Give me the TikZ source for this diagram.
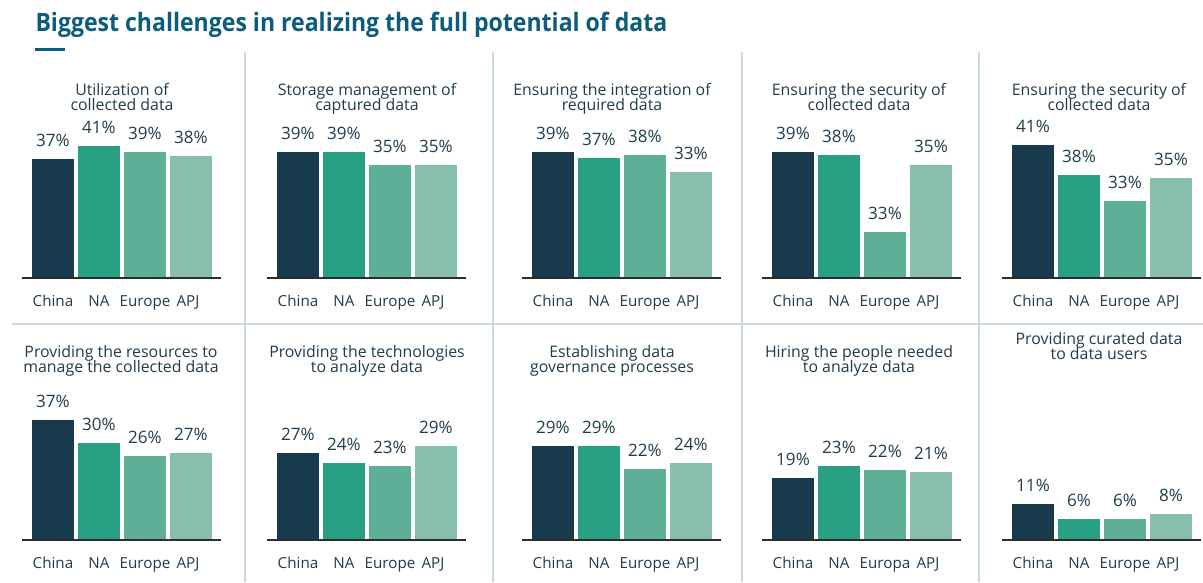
\documentclass[tikz,border=0pt]{standalone}
\usepackage{fontspec}
\setmainfont{Open Sans}
\newfontfamily\headfont[FakeStretch=0.91]{Open Sans}

\definecolor{chinacol}{RGB}{23,59,77}
\definecolor{nacol}{RGB}{41,160,132}
\definecolor{eurocol}{RGB}{94,175,151}
\definecolor{apjcol}{RGB}{136,191,171}
\definecolor{inkcol}{RGB}{30,60,77}
\definecolor{headcol}{RGB}{12,92,124}
\definecolor{sepcol}{RGB}{200,218,228}
\definecolor{axiscol}{RGB}{45,45,45}

\tikzset{every picture/.style={line width=0.75pt}}
\tikzset{
	headline/.style={font=\headfont\bfseries\fontsize{19}{19}\selectfont, text=headcol, anchor=base west, inner sep=0},
	paneltitle/.style={font=\fontsize{11.9}{11.9}\selectfont, text=inkcol, anchor=base, inner sep=0},
	pct/.style={font=\fontsize{12.8}{12.8}\selectfont, text=inkcol, anchor=base, inner sep=0},
	regionlabel/.style={font=\fontsize{11.4}{11.4}\selectfont, text=inkcol, anchor=base, inner sep=0},
	chinabar/.style={fill=chinacol, draw opacity=0},
	nabar/.style={fill=nacol, draw opacity=0},
	eurobar/.style={fill=eurocol, draw opacity=0},
	apjbar/.style={fill=apjcol, draw opacity=0},
	axisline/.style={draw=axiscol, line width=1.1pt},
	sepline/.style={draw=sepcol, line width=1.5pt}
}

\begin{document}
\begin{tikzpicture}[x=0.75pt,y=0.75pt,yscale=-1,xscale=1]
	\useasboundingbox (0,0) rectangle (1203,582);

	% Heading
	\node [headline] (head) at (35,31) {Biggest challenges in realizing the full potential of data};
	\fill [headcol] (35,47.5) rectangle (65,50.5);

	% Separators
	\draw [sepline] (245,52) -- (245,582);
	\draw [sepline] (493,52) -- (493,582);
	\draw [sepline] (742,52) -- (742,582);
	\draw [sepline] (979,52) -- (979,582);
	\draw [sepline] (12,324) -- (1203,324);

	%%%%%%%%%% Row 1 %%%%%%%%%%

	% Panel A
	\node [paneltitle] (tA1) at (122,95) {Utilization of};
	\node [paneltitle] (tA2) at (122,110) {collected data};
	\draw [chinabar] (32,278) rectangle (74,159);
	\draw [nabar] (78,278) rectangle (120,146);
	\draw [eurobar] (124,278) rectangle (166,152);
	\draw [apjbar] (170,278) rectangle (212,156);
	\draw [axisline] (22,278) -- (221,278);
	\node [pct] (pA1) at (53,146) {37\%};
	\node [pct] (pA2) at (99,133) {41\%};
	\node [pct] (pA3) at (145,139) {39\%};
	\node [pct] (pA4) at (191,143) {38\%};
	\node [regionlabel] (cA1) at (53,306) {China};
	\node [regionlabel] (cA2) at (99,306) {NA};
	\node [regionlabel] (cA3) at (145,306) {Europe};
	\node [regionlabel] (cA4) at (188,306) {APJ};

	% Panel B
	\node [paneltitle] (tB1) at (367,95) {Storage management of};
	\node [paneltitle] (tB2) at (367,110) {captured data};
	\draw [chinabar] (277,278) rectangle (319,152);
	\draw [nabar] (323,278) rectangle (365,152);
	\draw [eurobar] (369,278) rectangle (411,165);
	\draw [apjbar] (415,278) rectangle (457,165);
	\draw [axisline] (267,278) -- (466,278);
	\node [pct] (pB1) at (298,139) {39\%};
	\node [pct] (pB2) at (344,139) {39\%};
	\node [pct] (pB3) at (390,152) {35\%};
	\node [pct] (pB4) at (436,152) {35\%};
	\node [regionlabel] (cB1) at (298,306) {China};
	\node [regionlabel] (cB2) at (344,306) {NA};
	\node [regionlabel] (cB3) at (390,306) {Europe};
	\node [regionlabel] (cB4) at (433,306) {APJ};

	% Panel C
	\node [paneltitle] (tC1) at (612,95) {Ensuring the integration of};
	\node [paneltitle] (tC2) at (612,110) {required data};
	\draw [chinabar] (532,278) rectangle (574,152);
	\draw [nabar] (578,278) rectangle (620,158);
	\draw [eurobar] (624,278) rectangle (666,155);
	\draw [apjbar] (670,278) rectangle (712,172);
	\draw [axisline] (522,278) -- (721,278);
	\node [pct] (pC1) at (553,139) {39\%};
	\node [pct] (pC2) at (599,145) {37\%};
	\node [pct] (pC3) at (645,142) {38\%};
	\node [pct] (pC4) at (691,159) {33\%};
	\node [regionlabel] (cC1) at (553,306) {China};
	\node [regionlabel] (cC2) at (599,306) {NA};
	\node [regionlabel] (cC3) at (645,306) {Europe};
	\node [regionlabel] (cC4) at (688,306) {APJ};

	% Panel D
	\node [paneltitle] (tD1) at (859,95) {Ensuring the security of};
	\node [paneltitle] (tD2) at (859,110) {collected data};
	\draw [chinabar] (772,278) rectangle (814,152);
	\draw [nabar] (818,278) rectangle (860,155);
	\draw [eurobar] (864,278) rectangle (906,232);
	\draw [apjbar] (910,278) rectangle (952,165);
	\draw [axisline] (762,278) -- (961,278);
	\node [pct] (pD1) at (793,139) {39\%};
	\node [pct] (pD2) at (839,142) {38\%};
	\node [pct] (pD3) at (885,219) {33\%};
	\node [pct] (pD4) at (931,152) {35\%};
	\node [regionlabel] (cD1) at (793,306) {China};
	\node [regionlabel] (cD2) at (839,306) {NA};
	\node [regionlabel] (cD3) at (885,306) {Europe};
	\node [regionlabel] (cD4) at (928,306) {APJ};

	% Panel E
	\node [paneltitle] (tE1) at (1099,95) {Ensuring the security of};
	\node [paneltitle] (tE2) at (1099,110) {collected data};
	\draw [chinabar] (1012,278) rectangle (1054,145);
	\draw [nabar] (1058,278) rectangle (1100,175);
	\draw [eurobar] (1104,278) rectangle (1146,201);
	\draw [apjbar] (1150,278) rectangle (1192,178);
	\draw [axisline] (1002,278) -- (1201,278);
	\node [pct] (pE1) at (1033,132) {41\%};
	\node [pct] (pE2) at (1079,162) {38\%};
	\node [pct] (pE3) at (1125,188) {33\%};
	\node [pct] (pE4) at (1171,165) {35\%};
	\node [regionlabel] (cE1) at (1033,306) {China};
	\node [regionlabel] (cE2) at (1079,306) {NA};
	\node [regionlabel] (cE3) at (1125,306) {Europe};
	\node [regionlabel] (cE4) at (1168,306) {APJ};

	%%%%%%%%%% Row 2 %%%%%%%%%%

	% Panel F
	\node [paneltitle] (tF1) at (121,357) {Providing the resources to};
	\node [paneltitle] (tF2) at (121,372) {manage the collected data};
	\draw [chinabar] (32,540) rectangle (74,420);
	\draw [nabar] (78,540) rectangle (120,443);
	\draw [eurobar] (124,540) rectangle (166,456);
	\draw [apjbar] (170,540) rectangle (212,453);
	\draw [axisline] (22,540) -- (221,540);
	\node [pct] (pF1) at (53,407) {37\%};
	\node [pct] (pF2) at (99,430) {30\%};
	\node [pct] (pF3) at (145,443) {26\%};
	\node [pct] (pF4) at (191,440) {27\%};
	\node [regionlabel] (cF1) at (53,568) {China};
	\node [regionlabel] (cF2) at (99,568) {NA};
	\node [regionlabel] (cF3) at (145,568) {Europe};
	\node [regionlabel] (cF4) at (188,568) {APJ};

	% Panel G
	\node [paneltitle] (tG1) at (367,357) {Providing the technologies};
	\node [paneltitle] (tG2) at (367,372) {to analyze data};
	\draw [chinabar] (277,540) rectangle (319,453);
	\draw [nabar] (323,540) rectangle (365,463);
	\draw [eurobar] (369,540) rectangle (411,466);
	\draw [apjbar] (415,540) rectangle (457,446);
	\draw [axisline] (267,540) -- (466,540);
	\node [pct] (pG1) at (298,440) {27\%};
	\node [pct] (pG2) at (344,450) {24\%};
	\node [pct] (pG3) at (390,453) {23\%};
	\node [pct] (pG4) at (436,433) {29\%};
	\node [regionlabel] (cG1) at (298,568) {China};
	\node [regionlabel] (cG2) at (344,568) {NA};
	\node [regionlabel] (cG3) at (390,568) {Europe};
	\node [regionlabel] (cG4) at (433,568) {APJ};

	% Panel H
	\node [paneltitle] (tH1) at (612,357) {Establishing data};
	\node [paneltitle] (tH2) at (612,372) {governance processes};
	\draw [chinabar] (532,540) rectangle (574,446);
	\draw [nabar] (578,540) rectangle (620,446);
	\draw [eurobar] (624,540) rectangle (666,469);
	\draw [apjbar] (670,540) rectangle (712,463);
	\draw [axisline] (522,540) -- (721,540);
	\node [pct] (pH1) at (553,433) {29\%};
	\node [pct] (pH2) at (599,433) {29\%};
	\node [pct] (pH3) at (645,456) {22\%};
	\node [pct] (pH4) at (691,450) {24\%};
	\node [regionlabel] (cH1) at (553,568) {China};
	\node [regionlabel] (cH2) at (599,568) {NA};
	\node [regionlabel] (cH3) at (645,568) {Europe};
	\node [regionlabel] (cH4) at (688,568) {APJ};

	% Panel I
	\node [paneltitle] (tI1) at (859,357) {Hiring the people needed};
	\node [paneltitle] (tI2) at (859,372) {to analyze data};
	\draw [chinabar] (772,540) rectangle (814,478);
	\draw [nabar] (818,540) rectangle (860,466);
	\draw [eurobar] (864,540) rectangle (906,470);
	\draw [apjbar] (910,540) rectangle (952,472);
	\draw [axisline] (762,540) -- (961,540);
	\node [pct] (pI1) at (793,465) {19\%};
	\node [pct] (pI2) at (839,453) {23\%};
	\node [pct] (pI3) at (885,457) {22\%};
	\node [pct] (pI4) at (931,459) {21\%};
	\node [regionlabel] (cI1) at (793,568) {China};
	\node [regionlabel] (cI2) at (839,568) {NA};
	\node [regionlabel] (cI3) at (885,568) {Europa};
	\node [regionlabel] (cI4) at (928,568) {APJ};

	% Panel J
	\node [paneltitle] (tJ1) at (1099,344) {Providing curated data};
	\node [paneltitle] (tJ2) at (1099,359) {to data users};
	\draw [chinabar] (1012,540) rectangle (1054,504);
	\draw [nabar] (1058,540) rectangle (1100,519);
	\draw [eurobar] (1104,540) rectangle (1146,519);
	\draw [apjbar] (1150,540) rectangle (1192,514);
	\draw [axisline] (1002,540) -- (1201,540);
	\node [pct] (pJ1) at (1033,491) {11\%};
	\node [pct] (pJ2) at (1079,506) {6\%};
	\node [pct] (pJ3) at (1125,506) {6\%};
	\node [pct] (pJ4) at (1171,501) {8\%};
	\node [regionlabel] (cJ1) at (1033,568) {China};
	\node [regionlabel] (cJ2) at (1079,568) {NA};
	\node [regionlabel] (cJ3) at (1125,568) {Europe};
	\node [regionlabel] (cJ4) at (1168,568) {APJ};

\end{tikzpicture}
\end{document}
